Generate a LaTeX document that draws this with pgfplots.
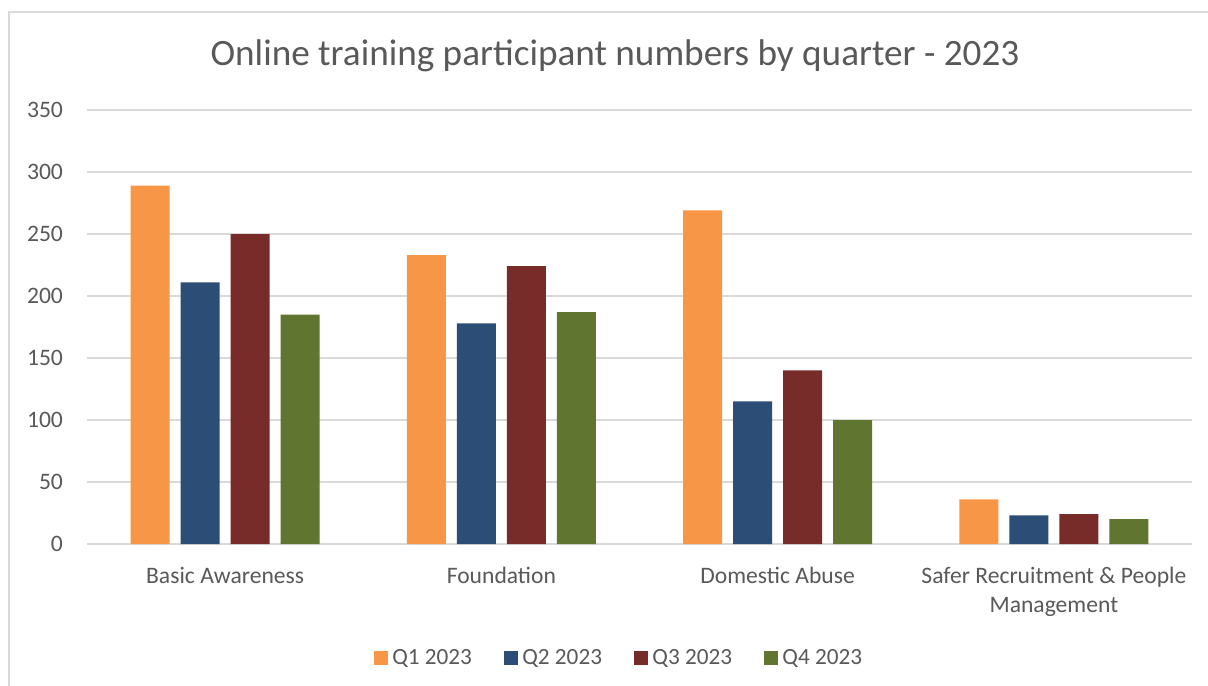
\documentclass[border=0pt]{standalone}
\usepackage{fontspec}
\setmainfont{Carlito}
\usepackage{pgfplots}
\pgfplotsset{compat=1.18}
\definecolor{txt}{RGB}{89,89,89}
\definecolor{gridc}{RGB}{217,217,217}
\definecolor{qone}{RGB}{247,150,70}
\definecolor{qtwo}{RGB}{44,77,117}
\definecolor{qthree}{RGB}{119,44,42}
\definecolor{qfour}{RGB}{95,117,48}

\begin{document}
\begin{tikzpicture}
\useasboundingbox (-43.5pt,-70.5pt) rectangle (560.5pt,272pt);
\fill[white] (-43.5pt,-70.5pt) rectangle (560.5pt,272pt);
\draw[gridc,line width=0.6pt] (-39pt,-80pt) rectangle (570pt,266pt);
\begin{axis}[
  at={(0,0)},anchor=south west,
  scale only axis,width=552.5pt,height=217pt,
  ybar=5.5pt,bar width=19.5pt,
  xmin=-0.5,xmax=3.5,ymin=0,ymax=350,
  xtick={0,1,2,3},
  xticklabels={Basic Awareness,Foundation,Domestic Abuse,{Safer Recruitment \& People\\Management}},
  ytick={0,50,...,350},
  axis line style={draw=none},
  major tick length=0pt,
  ymajorgrids,grid style={gridc,line width=0.8pt},
  tick label style={font=\fontsize{11.8}{14.5}\selectfont,text=txt},
  /pgf/number format/assume math mode=true,
  xticklabel style={align=center,yshift=-8pt},
  yticklabel style={xshift=-8.5pt},
  legend style={at={(266.5pt,-57pt)},anchor=center,draw=none,
    legend columns=4,font=\fontsize{11.6}{13}\selectfont,text=txt,
    /tikz/every even column/.append style={column sep=14pt}},
  legend image code/.code={\fill[#1] (0pt,-3.6pt) rectangle (7.2pt,3.6pt);},
]
\addplot[fill=qone,draw=none] coordinates {(0,289)(1,233)(2,269)(3,36)};
\addlegendentry{Q1 2023}
\addplot[fill=qtwo,draw=none] coordinates {(0,211)(1,178)(2,115)(3,23)};
\addlegendentry{Q2 2023}
\addplot[fill=qthree,draw=none] coordinates {(0,250)(1,224)(2,140)(3,24)};
\addlegendentry{Q3 2023}
\addplot[fill=qfour,draw=none] coordinates {(0,185)(1,187)(2,100)(3,20)};
\addlegendentry{Q4 2023}
\end{axis}
\node[text=txt,font=\fontsize{18.6}{22}\selectfont] at (264pt,244pt) {Online training participant numbers by quarter - 2023};
\end{tikzpicture}
\end{document}
